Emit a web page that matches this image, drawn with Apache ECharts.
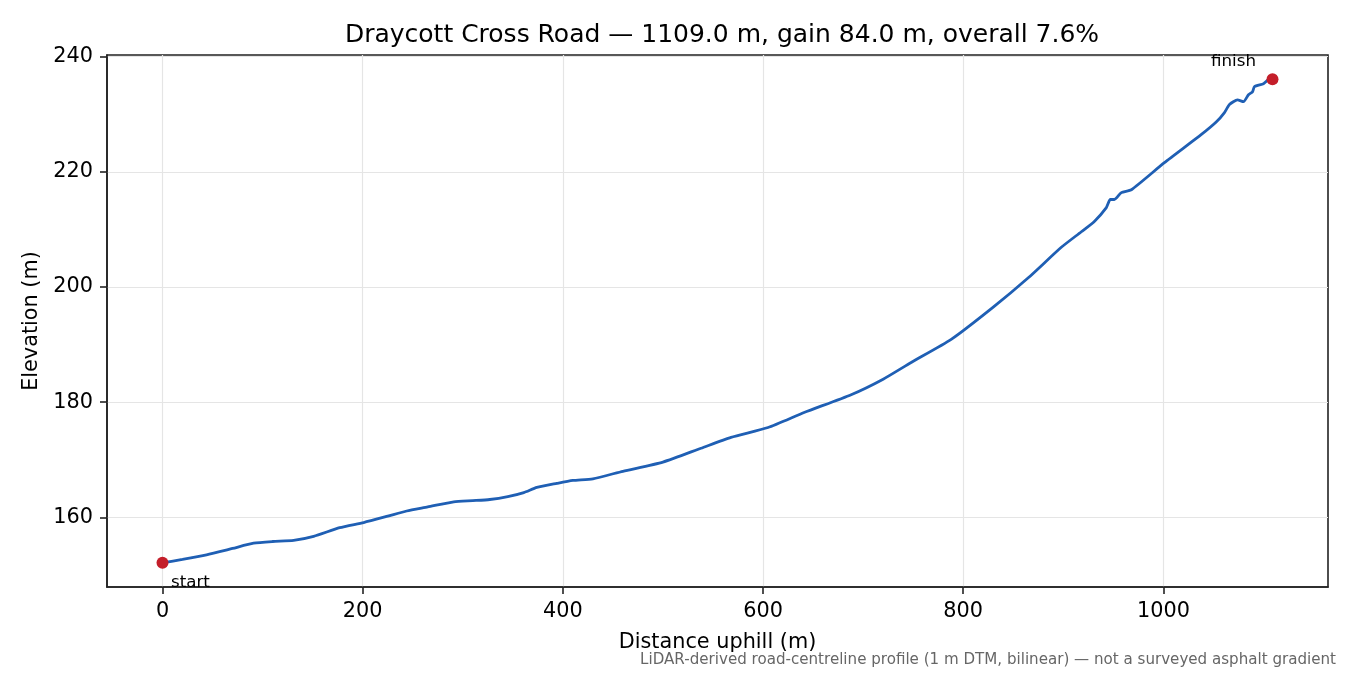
<!DOCTYPE html>
<html>
<head>
    <meta charset="utf-8">
    <title>Draycott Cross Road</title>
    <script src="https://cdn.jsdelivr.net/npm/echarts@6/dist/echarts.min.js"></script>
    <style>
        html, body { margin: 0; padding: 0; background: #fff; }
        #main { width: 1350px; height: 675px; }
    </style>
</head>
<body>
<div id="main"></div>

<script type="text/javascript">
    // profile: distance uphill (m) and elevation (m)
    var distance = [0, 20, 44, 70, 91, 110, 131, 151, 177, 201, 225, 244, 265, 291, 310, 327, 345, 361, 374, 394,
        410, 430, 460, 500, 538, 568, 605, 641, 688, 720, 748, 788, 830, 865, 898, 918, 931, 943, 947, 951,
        958, 968, 1001, 1038, 1053, 1061, 1066, 1074, 1080, 1085, 1089, 1091, 1100, 1104, 1109];
    var elevation = [152.1, 152.7, 153.5, 154.6, 155.5, 155.8, 156.0, 156.7, 158.2, 159.1, 160.2, 161.1, 161.8, 162.7, 162.9, 163.1, 163.6, 164.3, 165.2, 165.9,
        166.4, 166.7, 168.0, 169.6, 172.0, 173.9, 175.6, 178.2, 181.3, 184.0, 186.9, 190.9, 196.5, 201.6, 206.9, 209.6, 211.4, 213.8, 215.2, 215.2,
        216.4, 216.9, 221.6, 226.5, 228.7, 230.3, 231.7, 232.5, 232.2, 233.4, 233.9, 234.8, 235.3, 235.9, 236.1];

    var xTicks = [0, 200, 400, 600, 800, 1000];
    var yTicks = [160, 180, 200, 220, 240];
    var endNames = ['start', 'finish'];

    var font = 'DejaVu Sans, sans-serif';

    var line = [];
    for (var i = 0; i < distance.length; i++) {
        line.push([distance[i], elevation[i]]);
    }
    var last = distance.length - 1;

    // matplotlib style 5% margins
    var xPad = (distance[last] - distance[0]) * 0.05;
    var yPad = (elevation[last] - elevation[0]) * 0.05;

    var myChart = echarts.init(document.getElementById('main'));

    var option = {
        backgroundColor: '#fff',
        animation: false,
        title: {
            text: 'Draycott Cross Road \u2014 1109.0 m, gain 84.0 m, overall 7.6%',
            left: 717, top: 18, textAlign: 'center',
            textStyle: { fontFamily: font, fontSize: 25, fontWeight: 'normal', color: '#000' }
        },
        graphic: [{
            type: 'text', right: 14, top: 653,
            style: {
                text: 'LiDAR-derived road-centreline profile (1 m DTM, bilinear) \u2014 not a surveyed asphalt gradient',
                fontFamily: font, fontSize: 15.1, fill: '#666'
            }
        }],
        grid: {
            left: 107, right: 22, top: 55, bottom: 88,
            show: true, borderColor: '#222', borderWidth: 1.6
        },
        xAxis: {
            type: 'value',
            min: distance[0] - xPad, max: distance[last] + xPad,
            name: 'Distance uphill (m)', nameLocation: 'middle', nameGap: 45,
            nameTextStyle: { fontFamily: font, fontSize: 20.8, color: '#000' },
            axisLine: { show: true, onZero: false, lineStyle: { color: '#222', width: 1.6 } },
            axisTick: { show: true, length: 7, customValues: xTicks, lineStyle: { color: '#222', width: 1.6 } },
            axisLabel: {
                customValues: xTicks, margin: 14, fontFamily: font, fontSize: 20.8, color: '#000',
                formatter: function (v) { return String(v); }
            },
            splitLine: { show: true, lineStyle: { color: '#e5e5e5', width: 1.2 } }
        },
        yAxis: {
            type: 'value',
            min: elevation[0] - yPad, max: elevation[last] + yPad,
            name: 'Elevation (m)', nameLocation: 'middle', nameGap: 58,
            nameTextStyle: { fontFamily: font, fontSize: 20.8, color: '#000' },
            axisLine: { show: true, onZero: false, lineStyle: { color: '#222', width: 1.6 } },
            axisTick: { show: true, length: 7, customValues: yTicks, lineStyle: { color: '#222', width: 1.6 } },
            axisLabel: {
                customValues: yTicks, margin: 14, fontFamily: font, fontSize: 20.8, color: '#000',
                formatter: function (v) { return String(v); }
            },
            splitLine: { show: true, lineStyle: { color: '#e5e5e5', width: 1.2 } }
        },
        series: [{
            type: 'line',
            data: line,
            showSymbol: false,
            smooth: 0.2,
            lineStyle: { color: '#1f5fb4', width: 2.8 },
            z: 3
        }, {
            type: 'scatter',
            symbolSize: 12,
            itemStyle: { color: '#c41e2a', opacity: 1 },
            z: 4,
            data: [{
                value: [distance[0], elevation[0]],
                label: {
                    show: true, formatter: endNames[0], position: [14.5, 17.5],
                    align: 'left', verticalAlign: 'top',
                    fontFamily: font, fontSize: 16.7, color: '#000'
                }
            }, {
                value: [distance[last], elevation[last]],
                label: {
                    show: true, formatter: endNames[1], position: [-33, -12],
                    align: 'center', verticalAlign: 'middle',
                    fontFamily: font, fontSize: 16.7, color: '#000'
                }
            }]
        }]
    };

    myChart.setOption(option);
</script>
</body>
</html>
